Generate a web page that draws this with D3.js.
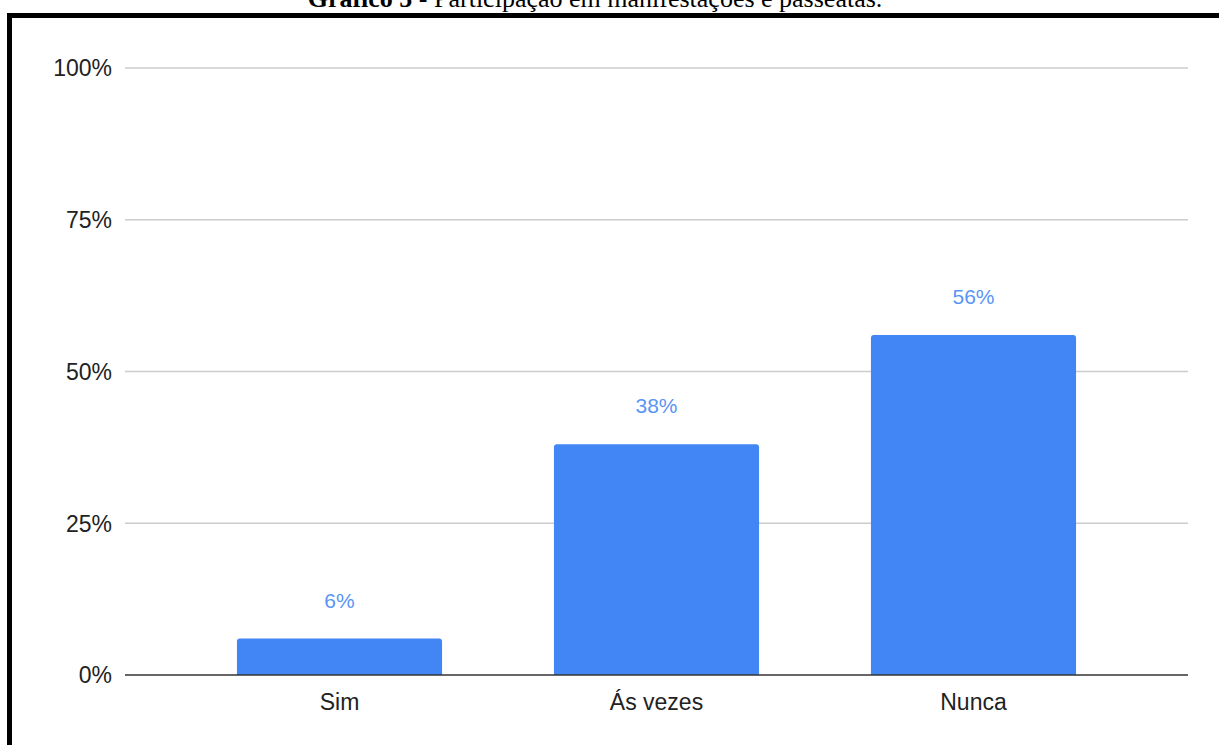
<!DOCTYPE html>
<html>
<head>
<meta charset="utf-8">
<script src="https://cdn.jsdelivr.net/npm/d3@7"></script>
<style>
  html, body { margin: 0; padding: 0; background: #fff; }
  #chart { width: 1219px; height: 745px; }
</style>
</head>
<body>
<div id="chart"></div>
<script>
// Data
const categories = ["Sim", "Ás vezes", "Nunca"];
const values = [6, 38, 56];
const yTicks = [0, 25, 50, 75, 100];

const width = 1219, height = 745;

const svg = d3.select("#chart")
    .append("svg")
    .attr("width", width)
    .attr("height", height);

// Caption (partially cut off at the top, as in the source)
const title = svg.append("text")
    .attr("x", 595)
    .attr("y", 7)
    .attr("text-anchor", "middle")
    .attr("fill", "#000")
    .style("font-family", "'Liberation Serif', 'Times New Roman', serif")
    .style("font-size", "26px");
title.append("tspan").style("font-weight", "bold").text("Gráfico 5");
title.append("tspan").text(" - Participação em manifestações e passeatas.");

// Frame border (top and left)
svg.append("rect").attr("x", 7).attr("y", 13).attr("width", width - 7).attr("height", 5).attr("fill", "#000");
svg.append("rect").attr("x", 7).attr("y", 13).attr("width", 5).attr("height", height - 13).attr("fill", "#000");

// Scales
const plotLeft = 125, plotRight = 1188;
const yScale = d3.scaleLinear()
    .domain([0, 100])
    .range([675, 68]);

const xScale = d3.scaleBand()
    .domain(categories)
    .range([181, 1132])
    .paddingInner(0.353)
    .paddingOuter(0.1765);

const font = "Arial, 'Liberation Sans', sans-serif";

// Gridlines
svg.append("g")
    .selectAll("line")
    .data(yTicks.filter(d => d > 0))
    .join("line")
    .attr("x1", plotLeft)
    .attr("x2", plotRight)
    .attr("y1", d => yScale(d))
    .attr("y2", d => yScale(d))
    .attr("stroke", "#cccccc")
    .attr("stroke-width", 1.3);

// Y tick labels
svg.append("g")
    .selectAll("text")
    .data(yTicks)
    .join("text")
    .attr("x", 112)
    .attr("y", d => yScale(d))
    .attr("dy", "0.36em")
    .attr("text-anchor", "end")
    .attr("fill", "#222")
    .style("font-family", font)
    .style("font-size", "23px")
    .text(d => d + "%");

// Bars (rounded top corners)
const barPath = (x, y, w, h, r) =>
    `M${x},${y + h}V${y + r}Q${x},${y} ${x + r},${y}H${x + w - r}Q${x + w},${y} ${x + w},${y + r}V${y + h}Z`;

svg.append("g")
    .selectAll("path")
    .data(categories)
    .join("path")
    .attr("d", (c, i) => {
        const y = yScale(values[i]);
        return barPath(xScale(c), y, xScale.bandwidth(), yScale(0) - y, 3);
    })
    .attr("fill", "#4285f4");

// Value labels
svg.append("g")
    .selectAll("text")
    .data(categories)
    .join("text")
    .attr("x", c => xScale(c) + xScale.bandwidth() / 2)
    .attr("y", (c, i) => yScale(values[i]) - 31)
    .attr("text-anchor", "middle")
    .attr("fill", "#5a95f5")
    .style("font-family", font)
    .style("font-size", "21px")
    .text((c, i) => values[i] + "%");

// Baseline
svg.append("line")
    .attr("x1", plotLeft)
    .attr("x2", plotRight)
    .attr("y1", yScale(0))
    .attr("y2", yScale(0))
    .attr("stroke", "#333")
    .attr("stroke-width", 1.5);

// Category labels
svg.append("g")
    .selectAll("text")
    .data(categories)
    .join("text")
    .attr("x", c => xScale(c) + xScale.bandwidth() / 2)
    .attr("y", 710)
    .attr("text-anchor", "middle")
    .attr("fill", "#222")
    .style("font-family", font)
    .style("font-size", "23px")
    .text(c => c);
</script>
</body>
</html>
